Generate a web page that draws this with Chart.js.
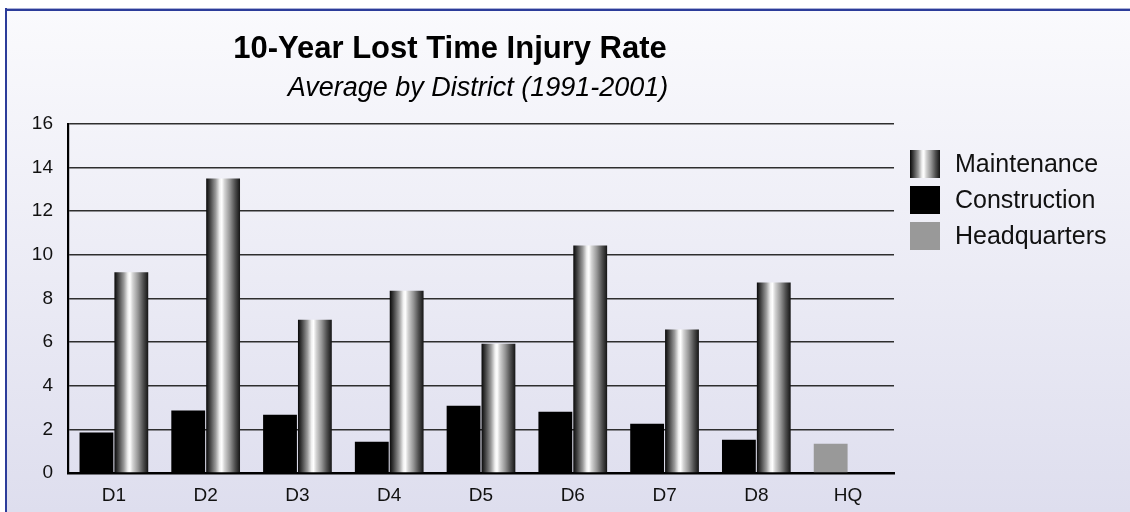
<!DOCTYPE html>
<html>
<head>
<meta charset="utf-8">
<script src="https://cdn.jsdelivr.net/npm/chart.js@4.4.0/dist/chart.umd.min.js"></script>
<style>
  html, body { margin: 0; padding: 0; background: #ffffff; }
  #wrap { width: 1130px; height: 512px; }
</style>
</head>
<body>
<div id="wrap"><canvas id="c" width="1130" height="512" style="width:1130px;height:512px"></canvas></div>
<script>
// ---- data ----
const categories = ['D1', 'D2', 'D3', 'D4', 'D5', 'D6', 'D7', 'D8', 'HQ'];
const maintenance = [9.2, 13.5, 7.03, 8.36, 5.93, 10.43, 6.58, 8.73, null];
const construction = [1.86, 2.86, 2.67, 1.43, 3.08, 2.81, 2.26, 1.53, null];
const headquarters = [null, null, null, null, null, null, null, null, 1.34];
const yTicks = { min: 0, max: 16, step: 2 };
const titleText = '10-Year Lost Time Injury Rate';
const subtitleText = 'Average by District (1991-2001)';
const legendOrder = ['Maintenance', 'Construction', 'Headquarters'];

// ---- style ----
const FONT = "'Liberation Sans', Arial, Helvetica, sans-serif";
const CAT_PCT = 0.76, BAR_PCT = 0.97;

function cylinder(ctx2d, left, width) {
  const g = ctx2d.createLinearGradient(left, 0, left + width, 0);
  g.addColorStop(0.00, '#080808');
  g.addColorStop(0.12, '#444444');
  g.addColorStop(0.28, '#9a9a9a');
  g.addColorStop(0.40, '#f0f0f0');
  g.addColorStop(0.46, '#ffffff');
  g.addColorStop(0.54, '#d4d4d4');
  g.addColorStop(0.70, '#959595');
  g.addColorStop(0.85, '#505050');
  g.addColorStop(1.00, '#141414');
  return g;
}

function maintColor(c) {
  if (c.type !== 'data') return '#888888';
  const chart = c.chart;
  const xs = chart.scales && chart.scales.x;
  if (!xs || !chart.chartArea) return '#888888';
  const catW = xs.width / categories.length;
  const chunk = catW * CAT_PCT / 2;
  const w = chunk * BAR_PCT;
  const cx = xs.getPixelForValue(c.dataIndex) + chunk / 2;
  return cylinder(chart.ctx, cx - w / 2, w);
}

const backgroundPlugin = {
  id: 'bgFrame',
  beforeDraw(chart) {
    const ctx = chart.ctx, W = chart.width, H = chart.height;
    ctx.save();
    ctx.fillStyle = '#ffffff';
    ctx.fillRect(0, 0, W, H);
    const g = ctx.createLinearGradient(0, 10, 0, H);
    g.addColorStop(0, '#fafafd');
    g.addColorStop(1, '#dedeee');
    ctx.fillStyle = g;
    ctx.fillRect(6, 9, W - 6, H - 9);
    ctx.fillStyle = '#aab0d6';
    ctx.fillRect(5, 8, W - 5, 1);
    ctx.fillStyle = '#2c3c9a';
    ctx.fillRect(5, 9, W - 5, 2);
    ctx.fillRect(5, 8, 2, H - 8);
    ctx.restore();
  }
};

const textPlugin = {
  id: 'titlesLegend',
  afterDraw(chart) {
    const ctx = chart.ctx;
    ctx.save();
    ctx.fillStyle = '#000000';
    ctx.textAlign = 'center';
    ctx.textBaseline = 'alphabetic';
    ctx.font = 'bold 31px ' + FONT;
    ctx.fillText(titleText, 450, 58);
    ctx.font = 'italic 27px ' + FONT;
    ctx.fillText(subtitleText, 478, 96);

    // legend
    const boxX = 910, boxW = 30, boxH = 28, startY = 150, gap = 36;
    ctx.textAlign = 'left';
    ctx.textBaseline = 'middle';
    ctx.font = '25px ' + FONT;
    legendOrder.forEach((lab, i) => {
      const ds = chart.data.datasets.find(d => d.label === lab);
      const y = startY + i * gap;
      ctx.fillStyle = lab === 'Maintenance' ? cylinder(ctx, boxX, boxW) : ds.backgroundColor;
      ctx.fillRect(boxX, y, boxW, boxH);
      ctx.fillStyle = '#111111';
      ctx.fillText(lab, 955, y + boxH / 2 + 1);
    });
    ctx.restore();
  }
};

new Chart(document.getElementById('c'), {
  type: 'bar',
  data: {
    labels: categories,
    datasets: [
      { label: 'Construction', data: construction, backgroundColor: '#000000', stack: 'a' },
      { label: 'Headquarters', data: headquarters, backgroundColor: '#999999', stack: 'a' },
      { label: 'Maintenance', data: maintenance, backgroundColor: maintColor, stack: 'b' }
    ]
  },
  options: {
    responsive: false,
    animation: false,
    devicePixelRatio: 1,
    layout: { padding: { left: 0, top: 124, right: 236, bottom: 0 } },
    datasets: { bar: { categoryPercentage: CAT_PCT, barPercentage: BAR_PCT, borderWidth: 0 } },
    plugins: { legend: { display: false }, title: { display: false }, tooltip: { enabled: false } },
    scales: {
      x: {
        grid: { display: false, drawTicks: false },
        border: { display: true, color: '#000000', width: 2.5 },
        ticks: { font: { family: FONT, size: 19 }, color: '#111111', padding: 11, maxRotation: 0, autoSkip: false },
        afterFit(s) { s.height = 39; }
      },
      y: {
        stacked: true,
        min: yTicks.min, max: yTicks.max,
        ticks: { stepSize: yTicks.step, font: { family: FONT, size: 19 }, color: '#111111', padding: 15 },
        grid: { color: '#2e2e2e', lineWidth: 1.6, drawTicks: false },
        border: { color: '#000000', width: 2.2 },
        afterFit(s) { s.width = 68; }
      }
    }
  },
  plugins: [backgroundPlugin, textPlugin]
});
</script>
</body>
</html>
